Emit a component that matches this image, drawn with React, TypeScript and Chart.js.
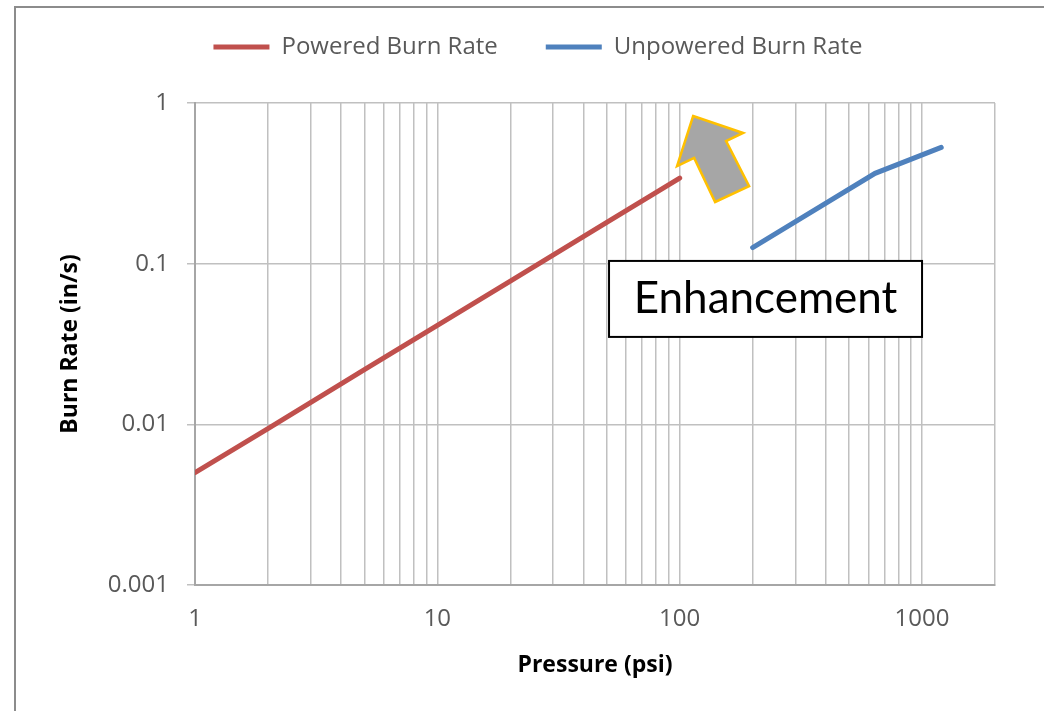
import React, { useEffect, useRef } from "react";
import { Chart, registerables } from "chart.js";

Chart.register(...registerables);

// ---- data ----
const POWERED_PRESSURE = [1, 2, 5, 10, 20, 50, 100];
const POWERED_RATE = [0.005, 0.0094, 0.0219, 0.0413, 0.0779, 0.181, 0.341];
const UNPOWERED_PRESSURE = [200, 640, 1200];
const UNPOWERED_RATE = [0.126, 0.365, 0.53];

const SERIES_LABELS = ["Powered Burn Rate", "Unpowered Burn Rate"];
const X_GRID = [
  1, 2, 3, 4, 5, 6, 7, 8, 9, 10, 20, 30, 40, 50, 60, 70, 80, 90, 100, 200, 300,
  400, 500, 600, 700, 800, 900, 1000, 2000,
];
const X_LABELS = [1, 10, 100, 1000];
const Y_TICKS = [0.001, 0.01, 0.1, 1];
const Y_TICK_LABELS = ["0.001", "0.01", "0.1", "1"];

// annotation (pressure, rate) vertices of the arrow, and box corners
const ARROW_P = [113.6, 182.7, 155.4, 193.4, 140, 114.7, 97.5];
const ARROW_R = [0.83, 0.651, 0.58, 0.304, 0.242, 0.455, 0.405];
const NOTE_TEXT = "Enhancement";
const NOTE_P = [51.1, 1000];
const NOTE_R = [0.104, 0.035];

const FONT = "'Open Sans', Lato, sans-serif";
const NOTE_FONT = "Lato, 'Open Sans', sans-serif";

export default function App() {
  const ref = useRef<HTMLCanvasElement | null>(null);

  useEffect(() => {
    const canvas = ref.current;
    if (!canvas) return;

    const annotations = {
      id: "annotations",
      afterLayout(chart: any) {
        const L = chart.legend;
        if (L) {
          const dx = 33;
          const dy = -34;
          L.left += dx;
          L.right += dx;
          L.top += dy;
          L.bottom += dy;
        }
      },
      beforeDraw(chart: any) {
        const ctx = chart.ctx;
        ctx.save();
        ctx.fillStyle = "#ffffff";
        ctx.fillRect(0, 0, chart.width, chart.height);
        ctx.strokeStyle = "#8c8c8c";
        ctx.lineWidth = 2;
        ctx.strokeRect(15, 7, chart.width + 50, chart.height + 50);
        ctx.restore();
      },
      afterDatasetsDraw(chart: any) {
        const ctx = chart.ctx;
        const xs = chart.scales.x;
        const ys = chart.scales.y;
        ctx.save();
        // arrow
        ctx.beginPath();
        ARROW_P.forEach((p, i) => {
          const px = xs.getPixelForValue(p);
          const py = ys.getPixelForValue(ARROW_R[i]);
          if (i === 0) ctx.moveTo(px, py);
          else ctx.lineTo(px, py);
        });
        ctx.closePath();
        ctx.fillStyle = "#a6a6a6";
        ctx.fill();
        ctx.strokeStyle = "#ffc000";
        ctx.lineWidth = 2.5;
        ctx.lineJoin = "miter";
        ctx.stroke();
        // note box
        const x0 = xs.getPixelForValue(NOTE_P[0]);
        const x1 = xs.getPixelForValue(NOTE_P[1]);
        const y0 = ys.getPixelForValue(NOTE_R[0]);
        const y1 = ys.getPixelForValue(NOTE_R[1]);
        ctx.fillStyle = "#ffffff";
        ctx.fillRect(x0, y0, x1 - x0, y1 - y0);
        ctx.strokeStyle = "#000000";
        ctx.lineWidth = 2;
        ctx.strokeRect(x0, y0, x1 - x0, y1 - y0);
        ctx.fillStyle = "#000000";
        ctx.font = `44px ${NOTE_FONT}`;
        ctx.textAlign = "center";
        ctx.textBaseline = "middle";
        ctx.fillText(NOTE_TEXT, (x0 + x1) / 2, (y0 + y1) / 2);
        ctx.restore();
      },
    };

    const chart = new Chart(canvas, {
      type: "line",
      data: {
        datasets: [
          {
            label: SERIES_LABELS[0],
            data: POWERED_PRESSURE.map((p, i) => ({ x: p, y: POWERED_RATE[i] })),
            borderColor: "#c0504d",
            backgroundColor: "#c0504d",
            borderWidth: 5,
            borderCapStyle: "round",
            pointRadius: 0,
            tension: 0,
          },
          {
            label: SERIES_LABELS[1],
            data: UNPOWERED_PRESSURE.map((p, i) => ({ x: p, y: UNPOWERED_RATE[i] })),
            borderColor: "#4f81bd",
            backgroundColor: "#4f81bd",
            borderWidth: 5,
            borderCapStyle: "round",
            pointRadius: 0,
            tension: 0,
          },
        ],
      },
      options: {
        responsive: false,
        animation: false,
        layout: { padding: { left: 15, right: 49, top: 21, bottom: 0 } },
        plugins: {
          tooltip: { enabled: false },
          legend: {
            display: true,
            position: "top",
            labels: {
              boxWidth: 56,
              boxHeight: 5,
              padding: 48,
              color: "#595959",
              font: { family: FONT, size: 24 },
              generateLabels: (c: any) =>
                Chart.defaults.plugins.legend.labels
                  .generateLabels(c)
                  .map((l: any) => ({ ...l, lineWidth: 0, fillStyle: l.strokeStyle })),
            },
          },
        },
        scales: {
          x: {
            type: "logarithmic",
            min: 1,
            max: 2000,
            afterBuildTicks: (s: any) => {
              s.ticks = X_GRID.map((v) => ({ value: v }));
            },
            afterFit: (s: any) => {
              s.height = 126;
            },
            ticks: {
              autoSkip: false,
              maxRotation: 0,
              padding: 20,
              color: "#595959",
              font: { family: FONT, size: 24 },
              callback: (v: any) => (X_LABELS.includes(Number(v)) ? String(v) : ""),
            },
            grid: { color: "#c0c0c0", lineWidth: 1.5, drawTicks: false },
            border: { color: "#a6a6a6", width: 2 },
            title: {
              display: true,
              text: "Pressure (psi)",
              color: "#000000",
              font: { family: FONT, size: 23, weight: "bold" },
              padding: { top: 0, bottom: 32 },
            },
          },
          y: {
            type: "logarithmic",
            min: 0.001,
            max: 1,
            afterBuildTicks: (s: any) => {
              s.ticks = Y_TICKS.map((v) => ({ value: v }));
            },
            afterFit: (s: any) => {
              s.width = 180;
            },
            ticks: {
              autoSkip: false,
              padding: 18,
              color: "#595959",
              font: { family: FONT, size: 24 },
              callback: (v: any) => {
                const i = Y_TICKS.findIndex((t) => Math.abs(t - Number(v)) < t * 1e-6);
                return i >= 0 ? Y_TICK_LABELS[i] : "";
              },
            },
            grid: { color: "#c0c0c0", lineWidth: 1.5, drawTicks: true, tickLength: 8 },
            border: { color: "#a6a6a6", width: 2 },
            title: {
              display: true,
              text: "Burn Rate (in/s)",
              color: "#000000",
              font: { family: FONT, size: 23, weight: "bold" },
              padding: { top: 42, bottom: 0 },
            },
          },
        },
      },
      plugins: [annotations],
    } as any);

    return () => chart.destroy();
  }, []);

  return (
    <div style={{ position: "fixed", left: 0, top: 0, width: 1044, height: 711, overflow: "hidden" }}>
      <canvas ref={ref} width={1044} height={711} style={{ display: "block" }} />
    </div>
  );
}
